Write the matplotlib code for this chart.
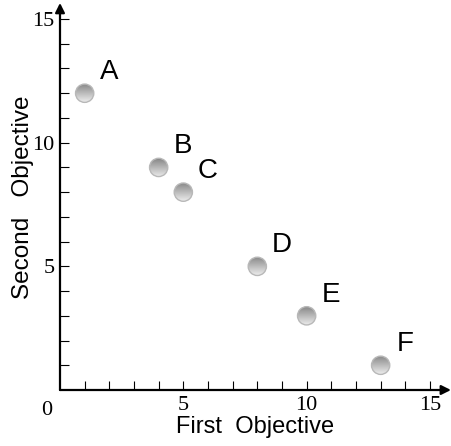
import matplotlib
matplotlib.use("Agg")
import matplotlib.pyplot as plt
import numpy as np
from matplotlib.patches import Circle
from matplotlib.ticker import FixedLocator, FuncFormatter

# solutions on the objective plane
names = ["A", "B", "C", "D", "E", "F"]
first_obj = [1, 4, 5, 8, 10, 13]
second_obj = [12, 9, 8, 5, 3, 1]

tick_vals = list(range(1, 16))
labelled = [5, 10, 15]

fig = plt.figure(figsize=(4.52, 4.46), dpi=100)
ax = fig.add_axes([60 / 452, 56 / 446, 389.7 / 452, 385.8 / 446])
ax.set_xlim(0, 15.8)
ax.set_ylim(0, 15.6)

for s in ax.spines.values():
    s.set_visible(False)

# axis arrows
arrow = dict(arrowstyle="-|>", color="black", lw=1.6, mutation_scale=14, shrinkA=0, shrinkB=0)
ax.annotate("", xy=(15.85, 0), xytext=(0, 0), arrowprops=arrow, annotation_clip=False)
ax.annotate("", xy=(0, 15.65), xytext=(0, 0), arrowprops=arrow, annotation_clip=False)

fmt = FuncFormatter(lambda v, p: f"{int(v)}" if int(v) in labelled else "")
for axis in (ax.xaxis, ax.yaxis):
    axis.set_major_locator(FixedLocator(tick_vals))
    axis.set_major_formatter(fmt)
ax.tick_params(direction="in", length=6.5, width=0.8, color="black",
               labelsize=16, pad=4)
for lab in ax.get_xticklabels() + ax.get_yticklabels():
    lab.set_family("Liberation Serif")
ax.text(-0.55, -0.45, "0", ha="center", va="top", fontsize=16, family="Liberation Serif")

# shaded balls
r = 0.37
grad = np.linspace(0, 1, 64).reshape(-1, 1)
for x, y, n in zip(first_obj, second_obj, names):
    c = Circle((x, y), r, facecolor="none", edgecolor="#b8b8b8", lw=1.0, zorder=4)
    ax.add_patch(c)
    im = ax.imshow(grad, cmap="gray", vmin=-1.3, vmax=1.2, origin="upper",
                   extent=[x - r, x + r, y - r, y + r], zorder=3, aspect="auto")
    im.set_clip_path(c)
    ax.text(x + 1.0, y + 0.85, n, ha="center", va="center", fontsize=20,
            family="Liberation Sans")

ax.set_xlim(0, 15.8)
ax.set_ylim(0, 15.6)
ax.set_xlabel("First  Objective", fontsize=17, family="Liberation Sans", labelpad=1)
ax.set_ylabel("Second   Objective", fontsize=17.5, family="Liberation Sans", labelpad=-1)

fig.savefig("out.png", dpi=100)
